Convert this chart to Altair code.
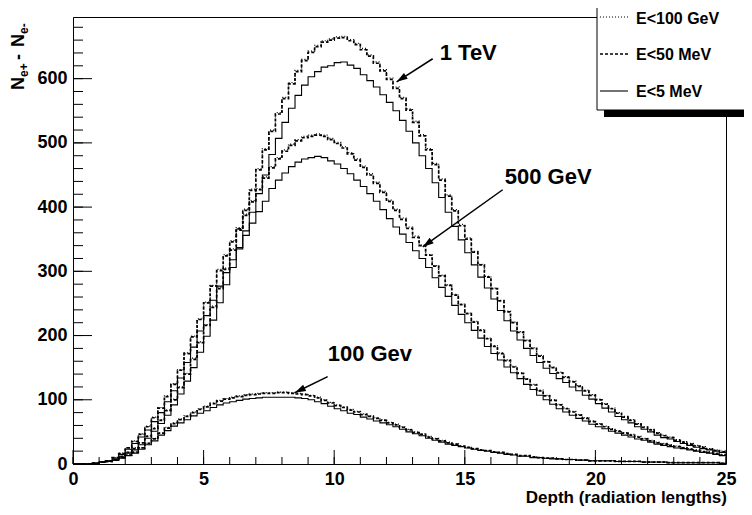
import altair as alt
import pandas as pd

FONT = "Liberation Sans"
W, H = 653, 447
PAD_L, PAD_T = 65, 9
X_MAX, Y_MAX = 25, 696
BIN_W = 0.25

# page (reference picture) pixel -> chart pixel (for text / legend decoration only)
def px(page_x):
    return page_x - (8 + PAD_L)

def py(page_y):
    return page_y - (8 + PAD_T)

depth = [i * BIN_W for i in range(100)]

# ---- 1 TeV ----
tev1_100gev = [0,0,0,1,3,4,7,12,18,25,33,44,56,69,84,101,120,141,165,190,
               217,246,275,305,335,366,397,428,460,491,520,547,571,594,613,630,643,652,659,662,
               665,666,661,655,647,637,626,614,601,587,571,553,534,513,491,468,444,419,396,373,
               352,331,311,292,274,255,238,221,206,193,181,169,160,151,143,136,129,122,115,108,
               101,94,87,80,74,69,63,58,54,49,45,42,38,35,32,29,27,24,22,20]
tev1_50mev = [0,0,0,1,3,4,7,12,18,24,33,43,55,68,83,100,119,140,163,189,
              216,244,273,303,333,364,395,426,458,489,518,545,569,592,611,628,641,650,657,660,
              663,664,659,653,645,635,624,612,599,585,569,551,532,511,489,466,442,417,394,371,
              350,330,310,291,273,254,237,220,205,192,180,168,159,150,142,135,128,121,114,107,
              100,93,86,79,73,68,62,57,53,48,44,41,37,34,31,28,26,23,21,19]
tev1_5mev = [0,0,0,1,3,4,6,11,17,22,30,40,51,63,76,92,109,129,150,174,
             199,224,251,279,306,335,363,392,421,450,482,507,532,554,574,590,603,611,618,620,
             625,626,621,616,606,597,587,575,563,550,535,518,500,480,460,438,415,392,370,349,
             329,310,291,274,257,239,223,207,193,180,169,158,149,141,133,127,120,114,107,101,
             94,87,81,74,69,64,58,54,50,45,41,39,35,32,29,26,24,22,20,18]

# ---- 500 GeV ----
gev500_100gev = [0,0,0,1,3,5,10,17,25,36,47,59,73,88,106,125,147,173,199,226,
                 252,278,303,326,348,368,389,410,429,447,463,477,489,498,505,510,512,514,512,507,
                 501,494,485,475,464,452,439,425,411,397,383,369,355,341,326,309,294,279,264,249,
                 235,222,209,196,184,173,162,152,142,133,124,115,107,100,93,87,82,77,72,67,
                 63,59,55,52,49,46,43,40,37,34,32,30,28,26,24,22,20,19,17,15]
gev500_50mev = [0,0,0,1,3,5,10,16,25,35,46,58,72,87,105,124,146,172,198,225,
                251,277,301,324,346,366,387,408,427,445,461,475,487,496,503,508,510,512,510,505,
                499,492,483,473,462,450,437,423,409,395,381,367,353,340,325,308,293,278,263,248,
                234,221,208,195,183,172,161,151,141,132,123,114,106,99,92,86,81,76,71,66,
                62,58,54,51,48,45,42,39,36,33,31,29,27,25,23,21,19,18,16,14]
gev500_5mev = [0,0,0,1,3,5,9,15,23,32,42,53,66,80,97,114,134,158,182,207,
               231,255,277,298,318,337,356,375,393,409,429,442,453,463,470,475,477,479,477,472,
               467,460,452,442,432,421,409,396,382,369,358,345,332,320,306,290,275,261,247,233,
               220,208,196,183,172,162,151,142,133,124,116,107,100,93,86,81,76,71,67,62,
               58,55,51,48,45,42,39,37,34,31,29,27,25,24,22,20,18,17,15,13]

# ---- 100 GeV ----
gev100_100gev = [0,0,0,1,3,4,6,10,14,19,25,32,40,48,57,64,70,75,81,86,
                 90,95,99,102,104,106,108,109,110,111,111,112,112,111,110,109,107,104,100,96,
                 92,89,85,82,78,75,72,69,65,62,58,54,50,47,43,40,37,34,31,28,
                 26,24,22,21,19,18,16,15,13,13,11,10,9,9,8,7,7,6,6,5,
                 5,5,5,4,4,4,4,3,3,3,3,2,2,2,2,2,2,2,2,1]
gev100_50mev = [0,0,0,1,3,4,6,10,14,18,25,32,39,48,56,63,69,74,80,85,
                89,94,98,101,103,105,107,108,109,110,110,111,111,110,109,108,106,103,99,95,
                91,88,84,81,77,74,71,68,64,61,57,53,49,46,42,39,36,33,31,28,
                26,24,22,21,19,18,16,15,13,13,11,10,9,9,8,7,7,6,6,5,
                5,5,5,4,4,4,4,3,3,3,3,2,2,2,2,2,2,2,2,1]
gev100_5mev = [0,0,0,1,3,4,6,9,13,17,23,30,36,45,52,59,64,69,75,79,
               83,88,92,95,97,99,101,102,103,104,104,104,104,104,103,102,100,97,94,90,
               86,83,79,77,73,70,67,64,61,58,54,50,47,44,40,37,34,31,29,27,
               25,23,21,20,18,17,15,14,12,12,10,10,9,8,8,7,7,6,6,5,
               5,5,5,4,4,4,4,3,3,3,3,2,2,2,2,2,2,2,2,1]

x_major = [0, 5, 10, 15, 20, 25]
x_minor = list(range(0, 26))
y_major = [0, 100, 200, 300, 400, 500, 600]
y_minor = list(range(0, 700, 20))

legend_labels = ["E<100 GeV", "E<50 MeV", "E<5 MeV"]

ann_text = ["1 TeV", "500 GeV", "100 Gev"]
ann_text_x = [14.04, 16.53, 9.75]
ann_text_y = [629, 436, 161]
arrow_x1 = [13.77, 16.45, 9.75]
arrow_y1 = [631, 427, 136]
arrow_x2 = [12.39, 13.39, 8.49]
arrow_y2 = [595, 338, 111]
arrow_angle = [237, 234, 244]


def hist_rows(vals, energy, cut):
    rows = [{"x": d, "y": v, "energy": energy, "cut": cut} for d, v in zip(depth, vals)]
    rows.append({"x": X_MAX, "y": vals[-1], "energy": energy, "cut": cut})
    return rows


series = {
    "E<100 GeV": [("1 TeV", tev1_100gev), ("500 GeV", gev500_100gev), ("100 GeV", gev100_100gev)],
    "E<50 MeV": [("1 TeV", tev1_50mev), ("500 GeV", gev500_50mev), ("100 GeV", gev100_50mev)],
    "E<5 MeV": [("1 TeV", tev1_5mev), ("500 GeV", gev500_5mev), ("100 GeV", gev100_5mev)],
}
styles = {
    "E<100 GeV": dict(strokeDash=[1, 2], strokeWidth=1.2),
    "E<50 MeV": dict(strokeDash=[3, 2], strokeWidth=1.7),
    "E<5 MeV": dict(strokeWidth=1.1),
}

xs = alt.Scale(domain=[0, X_MAX], nice=False, zero=False)
ys = alt.Scale(domain=[0, Y_MAX], nice=False, zero=False)

x_axis = alt.Axis(values=x_major, ticks=False, domain=False, grid=False, title=None,
                  labelFont=FONT, labelFontSize=18, labelFontWeight="bold", labelColor="black",
                  labelPadding=6, labelFlush=False)
y_axis = alt.Axis(values=y_major, ticks=False, domain=False, grid=False, title=None,
                  labelFont=FONT, labelFontSize=18, labelFontWeight="bold", labelColor="black",
                  labelPadding=6)


def X(field):
    return alt.X(field, type="quantitative", scale=xs, axis=x_axis)


def Y(field):
    return alt.Y(field, type="quantitative", scale=ys, axis=y_axis)


layers = []
for cut in ["E<5 MeV", "E<50 MeV", "E<100 GeV"]:
    rows = []
    for energy, vals in series[cut]:
        rows += hist_rows(vals, energy, cut)
    df = pd.DataFrame(rows)
    layers.append(
        alt.Chart(df).mark_line(interpolate="step-after", color="black", **styles[cut]).encode(
            x=X("x"), y=Y("y"), detail="energy:N",
        )
    )

# inward ticks (ROOT style)
def xticks(vals, length):
    return alt.Chart(pd.DataFrame({"x": vals})).mark_rule(color="black", strokeWidth=1).encode(
        x=X("x"), y=alt.value(H), y2=alt.value(H - length))

def yticks(vals, length):
    return alt.Chart(pd.DataFrame({"y": vals})).mark_rule(color="black", strokeWidth=1).encode(
        y=Y("y"), x=alt.value(0), x2=alt.value(length))

layers += [xticks(x_minor, 7), xticks(x_major, 14), yticks(y_minor, 10), yticks(y_major, 19)]

# annotations
ann = pd.DataFrame({"t": ann_text, "x": ann_text_x, "y": ann_text_y})
layers.append(alt.Chart(ann).mark_text(font=FONT, fontSize=22, fontWeight="bold", align="left",
                                       baseline="alphabetic", color="black").encode(
    x=X("x"), y=Y("y"), text="t:N"))
arr = pd.DataFrame({"x1": arrow_x1, "y1": arrow_y1, "x2": arrow_x2, "y2": arrow_y2, "a": arrow_angle})
layers.append(alt.Chart(arr).mark_rule(color="black", strokeWidth=1.5).encode(
    x=X("x1"), y=Y("y1"), x2="x2:Q", y2="y2:Q"))
layers.append(alt.Chart(arr).mark_point(shape="M0,0L0.35,1.1L-0.35,1.1Z", filled=True, color="black",
                                        size=400, opacity=1).encode(
    x=X("x2"), y=Y("y2"), angle=alt.Angle("a:Q", scale=None)))

# axis titles
layers.append(alt.Chart(pd.DataFrame({"t": ["Depth (radiation lengths)"]})).mark_text(
    font=FONT, fontSize=17, fontWeight="bold", align="right", baseline="alphabetic", color="black").encode(
    x=alt.value(px(727)), y=alt.value(py(503)), text="t:N"))

ytitle = [("N", 18, 24, 90), ("e+", 12, 28, 77), ("-", 18, 24, 60), ("N", 18, 24, 47), ("e-", 12, 28, 34)]
for t, fs, bx, by in ytitle:
    layers.append(alt.Chart(pd.DataFrame({"t": [t]})).mark_text(
        font=FONT, fontSize=fs, fontWeight="bold", align="left", baseline="alphabetic",
        angle=270, color="black").encode(x=alt.value(px(bx)), y=alt.value(py(by)), text="t:N"))

# legend box (ROOT TLegend with shadow)
one = pd.DataFrame({"k": [0]})
layers.append(alt.Chart(one).mark_rect(color="black").encode(
    x=alt.value(px(604)), x2=alt.value(px(780)), y=alt.value(py(110)), y2=alt.value(py(117))))
layers.append(alt.Chart(one).mark_rect(fill="white", stroke="black", strokeWidth=1).encode(
    x=alt.value(px(597)), x2=alt.value(px(780)), y=alt.value(py(7)), y2=alt.value(py(110))))
leg_line_y = [17, 54, 91]
leg_text_y = [19, 55, 92]
for lab, ly, ty in zip(legend_labels, leg_line_y, leg_text_y):
    layers.append(alt.Chart(one).mark_rule(color="black", **styles[lab]).encode(
        x=alt.value(px(600)), x2=alt.value(px(628)), y=alt.value(py(ly))))
    layers.append(alt.Chart(pd.DataFrame({"t": [lab]})).mark_text(
        font=FONT, fontSize=16, fontWeight="bold", align="left", baseline="middle", color="black").encode(
        x=alt.value(px(636)), y=alt.value(py(ty)), text="t:N"))

chart = alt.layer(*layers).properties(
    width=W, height=H,
    padding={"left": PAD_L, "top": PAD_T, "right": 18, "bottom": 43},
    autosize=alt.AutoSizeParams(type="none"),
).configure_view(stroke="black", strokeWidth=1)

chart.save("out.html", embed_options={"renderer": "svg", "actions": False})
